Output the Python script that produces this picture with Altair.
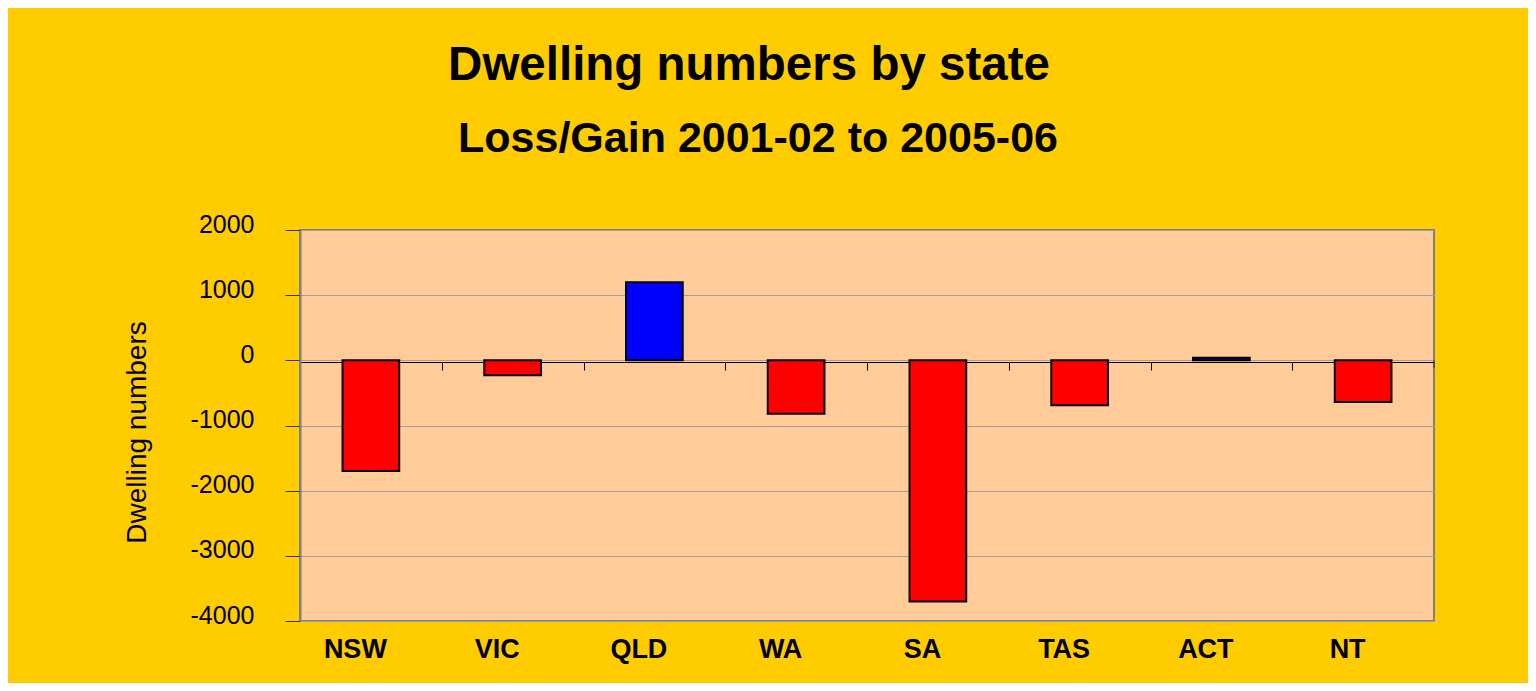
import altair as alt
import pandas as pd

states = ["NSW", "VIC", "QLD", "WA", "SA", "TAS", "ACT", "NT"]
values = [-1700, -230, 1200, -820, -3700, -690, 40, -640]
y_ticks = [2000, 1000, 0, -1000, -2000, -3000, -4000]
title_text = "Dwelling numbers by state"
subtitle_text = "Loss/Gain 2001-02 to 2005-06"
y_title = "Dwelling numbers"

FONT = "Liberation Sans, Arial, sans-serif"
STEP = 1134 / 8

df = pd.DataFrame({"state": states, "value": values})

x_enc = alt.X(
    "state:N",
    sort=states,
    title=None,
    scale=alt.Scale(paddingInner=0.6, paddingOuter=0.3),
    axis=alt.Axis(
        orient="bottom",
        offset=-259,
        domain=True,
        domainColor="black",
        domainWidth=1.2,
        ticks=True,
        tickOffset=-STEP / 2,
        tickSize=8,
        tickColor="black",
        tickWidth=1,
        grid=False,
        labelAngle=0,
        labelFont=FONT,
        labelFontSize=27,
        labelFontWeight="bold",
        labelColor="black",
        labelPadding=266,
        labelOffset=STEP / 2 - 16,
    ),
)

y_enc = alt.Y(
    "value:Q",
    scale=alt.Scale(domain=[-4000, 2000], nice=False),
    axis=alt.Axis(
        values=y_ticks,
        title=y_title,
        titleFont=FONT,
        titleFontSize=28,
        titleFontWeight="normal",
        titleColor="black",
        titleAngle=-90,
        titleAlign="center",
        titleBaseline="alphabetic",
        titleX=-155,
        titleY=202,
        labelFont=FONT,
        labelFontSize=25,
        labelColor="black",
        labelPadding=31,
        labelOffset=-6,
        labelBaseline="middle",
        labelExpr="'' + datum.value",
        tickSize=15,
        tickColor="#333333",
        tickWidth=1,
        domainColor="#808080",
        domainWidth=2,
        grid=True,
        gridColor="#a0a0a0",
        gridWidth=1,
    ),
)

bars = alt.Chart(df).mark_bar(stroke="black", strokeWidth=2).encode(
    x=x_enc,
    y=y_enc,
    color=alt.condition(alt.datum.value > 0, alt.value("#0000FF"), alt.value("#FF0000")),
)

# closing tick at the right end of the zero line
end_tick = alt.Chart(pd.DataFrame({"v": [0]})).mark_tick(
    orient="vertical", size=8, thickness=1, color="black", yOffset=4
).encode(x=alt.value(1134), y=alt.Y("v:Q"))

title_df = pd.DataFrame({"t": [title_text]})
subtitle_df = pd.DataFrame({"t": [subtitle_text]})

title_mark = alt.Chart(title_df).mark_text(
    font=FONT, fontSize=47.5, fontWeight="bold", color="black",
    align="center", baseline="alphabetic",
).encode(text="t:N", x=alt.value(449), y=alt.value(-150))

subtitle_mark = alt.Chart(subtitle_df).mark_text(
    font=FONT, fontSize=43, fontWeight="bold", color="black",
    align="center", baseline="alphabetic",
).encode(text="t:N", x=alt.value(458), y=alt.value(-78))

chart = alt.layer(bars, end_tick, title_mark, subtitle_mark).properties(
    width=1134,
    height=391,
    autosize=alt.AutoSizeParams(type="none"),
    padding={"left": 292, "top": 222, "right": 94, "bottom": 62},
    background="#FFCC00",
).configure_view(
    fill="#FFCC99",
    stroke="#808080",
    strokeWidth=2,
)

chart.save("out.html", embed_options={"renderer": "svg", "actions": False})
